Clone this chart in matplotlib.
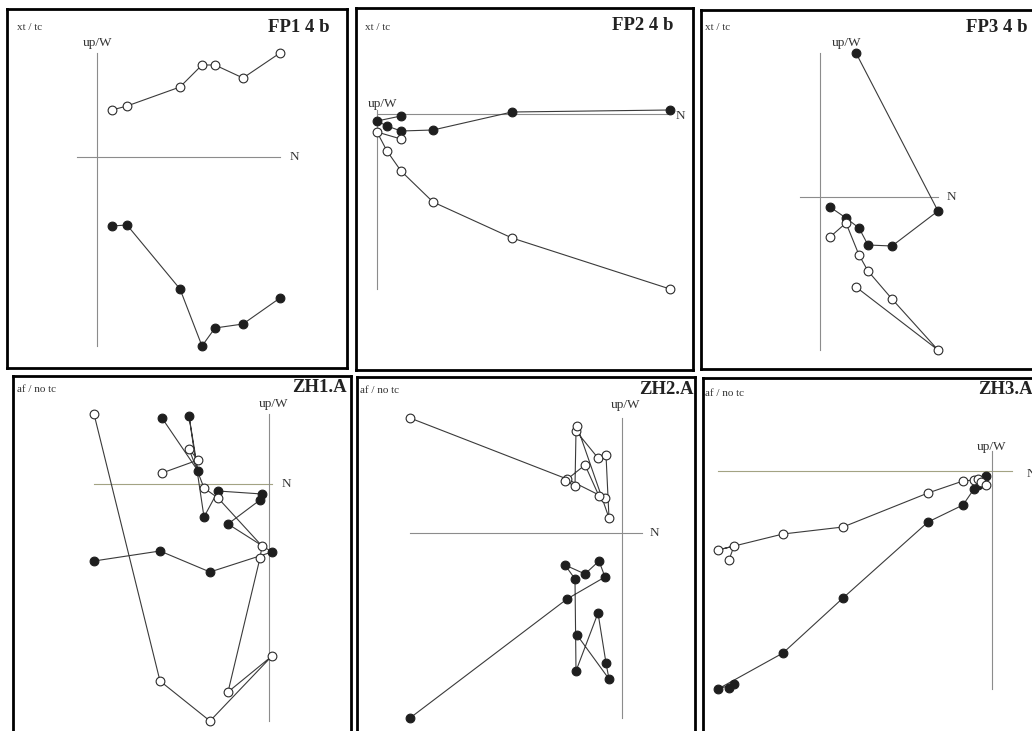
import matplotlib as mpl
import matplotlib.pyplot as plt

mpl.rcParams['font.family'] = ['Liberation Serif', 'DejaVu Serif']

# ----- Demagnetisation steps -----
# n = north component, w = horizontal projection (filled), up = vertical projection (open)
fp1_n = [15, 30, 83, 105, 118, 146, 183]
fp1_w = [-69, -68, -132, -189, -171, -167, -141]
fp1_up = [47, 51, 70, 92, 92, 79, 104]

fp2_n = [24, 0, 10, 24, 56, 135, 293]
fp2_w = [-2, -7, -12, -17, -16, 2, 4]
fp2_up = [-25, -18, -37, -57, -88, -124, -175]

fp3_n = [36, 118, 72, 48, 39, 26, 10]
fp3_w = [144, -14, -49, -48, -31, -21, -10]
fp3_up = [-90, -153, -102, -74, -58, -26, -40]

zh1_n = [-175, -109, -59, 3, -41, -9, -7, -51, -65, -80, -71, -107]
zh1_w = [-77, -67, -88, -68, -40, -16, -10, -7, -33, 68, 13, 66]
zh1_up = [70, -197, -237, -172, -208, -74, -62, -14, -4, 35, 24, 11]

zh2_n = [-212, -55, -17, -23, -37, -57, -47, -46, -24, -16, -13, -45]
zh2_w = [-185, -66, -44, -28, -41, -32, -46, -138, -80, -130, -146, -102]
zh2_up = [115, 54, 35, 37, 68, 52, 47, 102, 75, 78, 15, 107]

zh3_n = [-263, -258, -274, -209, -149, -64, -29, -18, -14, -11, -6]
zh3_w = [-217, -213, -218, -182, -127, -51, -34, -18, -14, -12, -5]
zh3_up = [-89, -75, -79, -63, -56, -22, -10, -9, -8, -11, -14]

# ----- Layout (pixels) -----
W, H = 1032, 731
panels = [
    dict(name="FP1 4 b", mode="xt / tc", n=fp1_n, w=fp1_w, up=fp1_up,
         box=(7, 9, 347, 368), origin=(97, 157),
         mode_xy=(17, 28), name_xy=(330, 27), upw_xy=(98, 43), n_xy=(290, 157),
         hcolor="#8c8c8c"),
    dict(name="FP2 4 b", mode="xt / tc", n=fp2_n, w=fp2_w, up=fp2_up,
         box=(356, 8, 693, 370), origin=(377, 114),
         mode_xy=(365, 28), name_xy=(673, 25), upw_xy=(383, 104), n_xy=(676, 116),
         hcolor="#8c8c8c"),
    dict(name="FP3 4 b", mode="xt / tc", n=fp3_n, w=fp3_w, up=fp3_up,
         box=(701, 10, 1045, 369), origin=(820, 197),
         mode_xy=(705, 28), name_xy=(1028, 27), upw_xy=(847, 43), n_xy=(947, 197),
         hcolor="#8c8c8c"),
    dict(name="ZH1.A", mode="af / no tc", n=zh1_n, w=zh1_w, up=zh1_up,
         box=(13, 376, 351, 745), origin=(269, 484),
         mode_xy=(17, 389), name_xy=(347, 387), upw_xy=(274, 404), n_xy=(282, 484),
         hcolor="#a3a383"),
    dict(name="ZH2.A", mode="af / no tc", n=zh2_n, w=zh2_w, up=zh2_up,
         box=(357, 377, 695, 745), origin=(622, 533),
         mode_xy=(360, 391), name_xy=(694, 389), upw_xy=(626, 405), n_xy=(650, 533),
         hcolor="#8c8c8c"),
    dict(name="ZH3.A", mode="af / no tc", n=zh3_n, w=zh3_w, up=zh3_up,
         box=(703, 378, 1045, 745), origin=(992, 471),
         mode_xy=(705, 393), name_xy=(1033, 389), upw_xy=(992, 447), n_xy=(1027, 474),
         hcolor="#a3a383"),
]


def span(vals):
    # axis lines cover the data, reaching a little past the origin when needed
    lo, hi = min(vals), max(vals)
    if lo > 0:
        lo = -20
    if hi < 0:
        hi = 20
    return lo, hi


fig = plt.figure(figsize=(W / 100, H / 100), dpi=100)

for p in panels:
    l, t, r, b = p["box"]
    ox, oy = p["origin"]
    ax = fig.add_axes([l / W, 1 - b / H, (r - l) / W, (b - t) / H])
    ax.set_xlim(l - ox, r - ox)
    ax.set_ylim(oy - b, oy - t)
    ax.set_xticks([])
    ax.set_yticks([])
    for s in ax.spines.values():
        s.set_linewidth(2.0)
        s.set_color("black")

    # axes of the orthogonal plot
    hx = span(p["n"])
    vy = span(p["w"] + p["up"])
    ax.plot(hx, [0, 0], color=p["hcolor"], lw=0.8, zorder=1)
    ax.plot([0, 0], vy, color="#8c8c8c", lw=0.8, zorder=1)

    # horizontal projection (filled) and vertical projection (open)
    ax.plot(p["n"], p["w"], color="#3a3a3a", lw=0.8, zorder=2)
    ax.plot(p["n"], p["up"], color="#3a3a3a", lw=0.8, zorder=2)
    ax.plot(p["n"], p["w"], ls="none", marker="o", ms=6.3,
            mfc="#1e1e1e", mec="#1e1e1e", mew=0.8, zorder=3)
    ax.plot(p["n"], p["up"], ls="none", marker="o", ms=6.3,
            mfc="white", mec="#2a2a2a", mew=0.8, zorder=3)

    fig.text(p["mode_xy"][0] / W, 1 - p["mode_xy"][1] / H, p["mode"],
             fontsize=8, color="#333333", ha="left", va="center")
    fig.text(p["name_xy"][0] / W, 1 - p["name_xy"][1] / H, p["name"],
             fontsize=13.5, fontweight="bold", color="#222222", ha="right", va="center")
    fig.text(p["upw_xy"][0] / W, 1 - p["upw_xy"][1] / H, "up/W",
             fontsize=9.5, color="#333333", ha="center", va="center")
    fig.text(p["n_xy"][0] / W, 1 - p["n_xy"][1] / H, "N",
             fontsize=9.5, color="#333333", ha="left", va="center")

plt.savefig("out.png", dpi=100)
